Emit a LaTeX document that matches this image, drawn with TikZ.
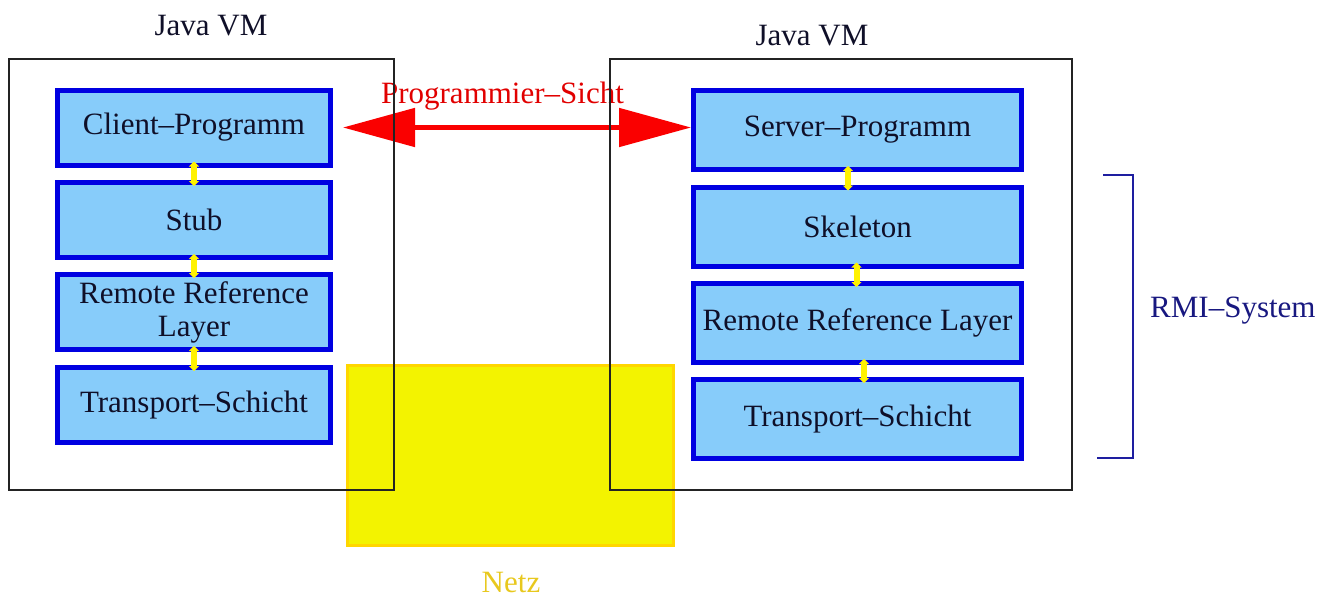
\documentclass[tikz,border=0pt]{standalone}
\usepackage{fontspec}
\setmainfont{Liberation Serif}
\usetikzlibrary{arrows.meta}
\definecolor{boxfill}{RGB}{135,204,250}
\definecolor{boxline}{RGB}{0,0,225}
\definecolor{netzfill}{RGB}{243,243,0}
\definecolor{netzline}{RGB}{255,214,0}
\definecolor{netztext}{RGB}{232,200,30}
\definecolor{rmiblue}{RGB}{30,30,160}
\definecolor{vmline}{RGB}{35,35,35}
\definecolor{txt}{RGB}{15,15,40}
\definecolor{arrred}{RGB}{250,0,0}
\begin{document}
\begin{tikzpicture}[x=1pt,y=-1pt,
  every node/.style={font=\fontsize{31}{33}\selectfont, text=txt},
  layer/.style={draw=boxline, fill=boxfill, line width=5pt, inner sep=0pt, align=center},
  lbox/.style={layer, minimum width=273pt, minimum height=75pt},
  rbox/.style={layer, minimum width=328pt, minimum height=79pt},
  vmbox/.style={draw=vmline, line width=1.3pt},
  conn/.style={yellow, line width=6pt, {Triangle[length=5pt,width=10pt]}-{Triangle[length=5pt,width=10pt]}, shorten <=-6pt, shorten >=-6pt},
  bigarrow/.style={arrred, line width=5pt, {Triangle[length=72pt,width=38pt]}-{Triangle[length=72pt,width=38pt]}}
]
\useasboundingbox (0,0) rectangle (1331,597);

% network area
\draw[netzline, fill=netzfill, line width=3pt] (347.5,365.5) rectangle (673.5,545.5);
\node[text=netztext, anchor=base] (netz) at (511,592) {Netz};

% left column
\node[lbox] (cli) at (194,127.5) {Client--Programm};
\node[lbox] (stub) at (194,220) {Stub};
\node[lbox] (rrl) at (194,312) {Remote Reference\\Layer};
\node[lbox] (tl) at (194,405) {Transport--Schicht};

% right column
\node[rbox] (srv) at (857.5,130) {Server--Programm};
\node[rbox] (skel) at (857.5,226.5) {Skeleton};
\node[rbox] (rrr) at (857.5,323) {Remote Reference Layer};
\node[rbox] (tr) at (857.5,419) {Transport--Schicht};

% programmer view arrow
\coordinate (pa) at ([xshift=10pt]cli.east);
\draw[bigarrow] (pa) -- (pa -| srv.west);
\node[text=arrred!90!black, anchor=base] (psicht) at (502.5,103) {Programmier--Sicht};

% Java VM frames
\draw[vmbox] (9,59) rectangle (394,490);
\draw[vmbox] (610,59) rectangle (1072,490);
\node[anchor=base] (vm1) at (211,35) {Java VM};
\node[anchor=base] (vm2) at (812,45) {Java VM};

% connectors
\draw[conn] (cli.south) -- (stub.north);
\draw[conn] (stub.south) -- (rrl.north);
\draw[conn] (rrl.south) -- (tl.north);
\draw[conn] ([xshift=-9.5pt]srv.south) -- ([xshift=-9.5pt]skel.north);
\draw[conn] ([xshift=-1pt]skel.south) -- ([xshift=-1pt]rrr.north);
\draw[conn] ([xshift=6.5pt]rrr.south) -- ([xshift=6.5pt]tr.north);

% RMI bracket
\coordinate (bt) at (1103,175);
\coordinate (bb) at (1097,458);
\draw[rmiblue, line width=1.8pt] (bt) -- (1133,175) -- (1133,458) -- (bb);
\node[text=rmiblue!80!black, anchor=base west, inner sep=0pt] (rmi) at (1150,317) {RMI--System};
\end{tikzpicture}
\end{document}
